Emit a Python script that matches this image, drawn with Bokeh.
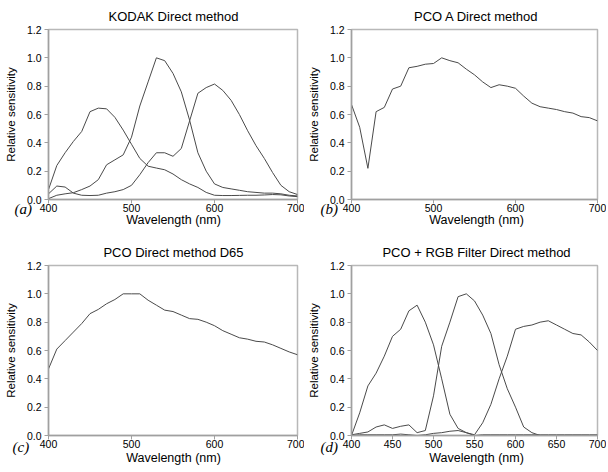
from bokeh.plotting import figure
from bokeh.layouts import gridplot
from bokeh.models import Label, FixedTicker, PrintfTickFormatter, Range1d
from bokeh.embed import file_html
from bokeh.resources import INLINE

# ---------------- data ----------------
wavelength = [400, 410, 420, 430, 440, 450, 460, 470, 480, 490, 500,
              510, 520, 530, 540, 550, 560, 570, 580, 590, 600,
              610, 620, 630, 640, 650, 660, 670, 680, 690, 700]

kodak_blue = [0.07, 0.24, 0.33, 0.41, 0.48, 0.62, 0.645, 0.64, 0.58, 0.49, 0.39,
              0.29, 0.235, 0.222, 0.21, 0.18, 0.14, 0.11, 0.085, 0.05, 0.03,
              0.028, 0.028, 0.029, 0.03, 0.03, 0.032, 0.035, 0.033, 0.025, 0.02]
kodak_green = [0.006, 0.03, 0.04, 0.048, 0.07, 0.095, 0.14, 0.245, 0.28, 0.315, 0.44,
               0.66, 0.83, 1.0, 0.98, 0.89, 0.76, 0.56, 0.33, 0.2, 0.11,
               0.085, 0.075, 0.065, 0.055, 0.05, 0.045, 0.045, 0.04, 0.03, 0.025]
kodak_red = [0.04, 0.095, 0.088, 0.045, 0.03, 0.028, 0.03, 0.045, 0.055, 0.07, 0.10,
             0.175, 0.26, 0.33, 0.33, 0.305, 0.36, 0.555, 0.75, 0.79, 0.815,
             0.77, 0.70, 0.60, 0.485, 0.38, 0.29, 0.19, 0.10, 0.055, 0.035]

pco_a = [0.67, 0.51, 0.22, 0.62, 0.65, 0.78, 0.80, 0.93, 0.94, 0.955, 0.96,
         1.0, 0.98, 0.965, 0.92, 0.88, 0.83, 0.79, 0.81, 0.80, 0.785,
         0.73, 0.68, 0.655, 0.645, 0.635, 0.62, 0.61, 0.585, 0.578, 0.555]

pco_d65 = [0.47, 0.61, 0.67, 0.73, 0.79, 0.86, 0.89, 0.93, 0.96, 1.0, 1.0,
           1.0, 0.955, 0.92, 0.885, 0.875, 0.85, 0.825, 0.82, 0.80, 0.775,
           0.74, 0.715, 0.69, 0.68, 0.665, 0.66, 0.64, 0.615, 0.59, 0.57]

rgb_blue = [0.0, 0.16, 0.35, 0.44, 0.56, 0.70, 0.75, 0.88, 0.92, 0.80, 0.64,
            0.40, 0.15, 0.05, 0.02, 0.0, 0.005, 0.005, 0.005, 0.005, 0.005,
            0.005, 0.005, 0.005, 0.005, 0.005, 0.005, 0.005, 0.005, 0.005, 0.005]
rgb_green = [0.005, 0.015, 0.025, 0.06, 0.075, 0.05, 0.065, 0.075, 0.02, 0.035, 0.28,
             0.63, 0.80, 0.98, 1.0, 0.95, 0.85, 0.72, 0.50, 0.33, 0.20,
             0.06, 0.02, 0.0, 0.0, 0.0, 0.0, 0.0, 0.0, 0.0, 0.0]
rgb_red = [0.0, 0.005, 0.005, 0.005, 0.005, 0.005, 0.01, 0.005, 0.0, 0.005, 0.015,
           0.02, 0.03, 0.035, 0.02, 0.005, 0.09, 0.22, 0.40, 0.56, 0.75,
           0.77, 0.78, 0.80, 0.81, 0.78, 0.75, 0.72, 0.71, 0.66, 0.60]

y_ticks = [0.0, 0.2, 0.4, 0.6, 0.8, 1.0, 1.2]
x_ticks_100 = [400, 500, 600, 700]
x_ticks_50 = [400, 450, 500, 550, 600, 650, 700]

titles = ["KODAK Direct method", "PCO A Direct method",
          "PCO Direct method D65", "PCO + RGB Filter Direct method"]
panel_tags = ["(a)", "(b)", "(c)", "(d)"]
x_title = "Wavelength (nm)"
y_title = "Relative sensitivity"

FONT = "Liberation Sans"
LINE = "#4a4a4a"
AXIS = "#a0a0a0"


def screen_label(text, x, y, font, size, style="normal", align="center"):
    return Label(x=x, y=y, x_units="screen", y_units="screen", text=text,
                 text_font=font, text_font_size=size, text_font_style=style,
                 text_color="black", text_align=align, text_baseline="middle")


def make_panel(title, series, xticks, tag, width, height, bl, br, bt, bb,
               tag_dx, title_y, xlab_y, tag_y):
    p = figure(width=width, height=height, output_backend="svg", toolbar_location=None,
               x_range=Range1d(400, 700), y_range=Range1d(0, 1.2), title=None,
               min_border_left=bl, min_border_right=br, min_border_top=bt,
               min_border_bottom=bb)
    for ys in series:
        p.line(wavelength, ys, line_color=LINE, line_width=1)
    p.xgrid.visible = False
    p.ygrid.visible = False
    p.outline_line_color = "#b8b8b8"
    p.outline_line_width = 1.5
    p.background_fill_color = "white"
    p.border_fill_color = "white"

    p.xaxis.ticker = FixedTicker(ticks=xticks)
    p.yaxis.ticker = FixedTicker(ticks=y_ticks)
    p.yaxis.formatter = PrintfTickFormatter(format="%.1f")
    p.yaxis.axis_label = y_title
    for ax in (p.xaxis[0], p.yaxis[0]):
        ax.axis_line_color = AXIS
        ax.axis_line_width = 1.5
        ax.major_tick_line_color = AXIS
        ax.major_tick_in = 0
        ax.major_tick_out = 4
        ax.minor_tick_line_color = None
        ax.major_label_text_font = FONT
        ax.major_label_text_font_size = "10.5px"
        ax.major_label_text_color = "black"
        ax.axis_label_text_font = FONT
        ax.axis_label_text_font_style = "normal"
        ax.axis_label_text_color = "black"
    p.xaxis.major_label_standoff = 0
    p.yaxis.major_label_standoff = 3
    p.yaxis.axis_label_standoff = 7
    p.yaxis.axis_label_text_font_size = "11.5px"

    # texts placed in side panels (free offsets, not clipped by the frame)
    p.add_layout(screen_label(title, 125, title_y, FONT, "13px"), "above")
    p.add_layout(screen_label(x_title, 125, xlab_y, FONT, "12.5px"), "above")
    p.add_layout(screen_label(tag, tag_dx, tag_y, "Liberation Serif", "15px",
                              style="italic", align="left"), "below")
    return p


pa = make_panel(titles[0], [kodak_blue, kodak_green, kodak_red], x_ticks_100, panel_tags[0],
                304, 236, 47, 7, 29, 37, -34, 13, -205, 22)
pb = make_panel(titles[1], [pco_a], x_ticks_100, panel_tags[1],
                302, 236, 43, 9, 29, 37, -31, 13, -205, 22)
pc = make_panel(titles[2], [pco_d65], x_ticks_100, panel_tags[2],
                304, 234, 48, 7, 29, 35, -36, 13, -207, 20)
pd = make_panel(titles[3], [rgb_blue, rgb_green, rgb_red], x_ticks_50, panel_tags[3],
                302, 234, 43, 9, 29, 35, -31, 13, -207, 20)

grid = gridplot([[pa, pb], [pc, pd]], toolbar_location=None)

open("out.html", "w").write(file_html(grid, INLINE))
